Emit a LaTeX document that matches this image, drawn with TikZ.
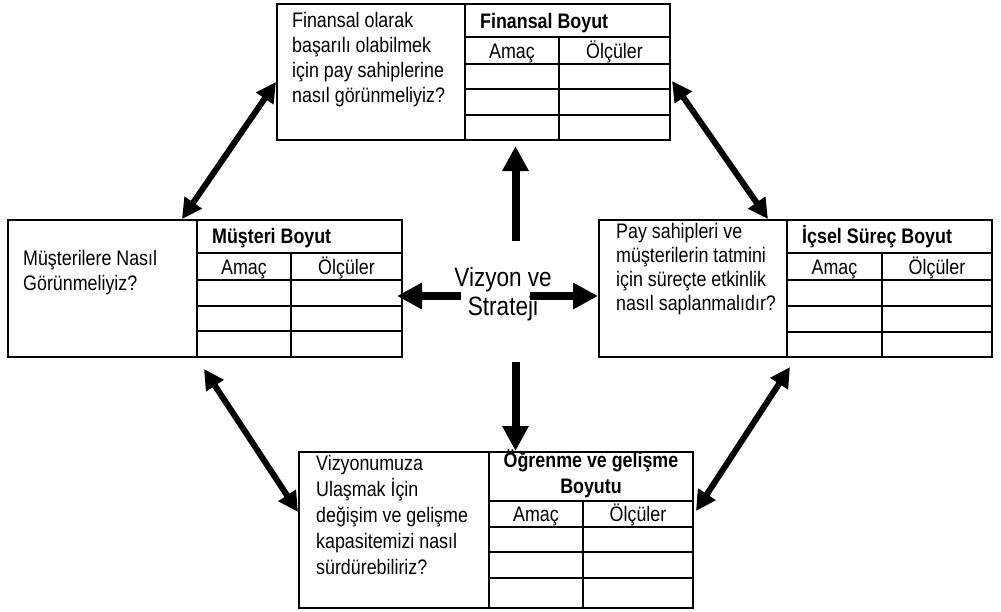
\documentclass[tikz,border=0pt]{standalone}
\usepackage{fontspec}
\setmainfont{Liberation Sans}[FakeStretch=0.85]
\usetikzlibrary{arrows.meta,calc}
\begin{document}
\begin{tikzpicture}[x=1pt,y=-1pt,
  boxnode/.style={draw,line width=2.2pt,anchor=north west,inner sep=0pt,outer sep=0pt},
  gridline/.style={line width=2pt},
  qtext/.style={anchor=north west,inner sep=0pt,align=left,font=\fontsize{21}{25}\selectfont},
  htext/.style={anchor=base west,inner sep=0pt,font=\fontsize{21}{25}\selectfont\bfseries},
  ctext/.style={anchor=base,inner sep=0pt,font=\fontsize{21}{25}\selectfont},
  bigarrow/.style={line width=8pt,-{Triangle[length=25pt,width=25pt]}},
  dblarrow/.style={line width=6pt,{Triangle[length=20pt,width=20pt]}-{Triangle[length=20pt,width=20pt]}}]
\useasboundingbox (0,0) rectangle (1001,611);
\fill[white] (0,0) rectangle (1001,611);

% ---------- Finansal box ----------
\node[boxnode,minimum width=393pt,minimum height=136pt] (fin) at (277,4) {};
\draw[gridline] (465,4) -- (465,140);
\draw[gridline] (465,37) -- (670,37);
\draw[gridline] (465,64) -- (670,64);
\draw[gridline] (465,89) -- (670,89);
\draw[gridline] (465,115) -- (670,115);
\draw[gridline] (559,37) -- (559,140);
\node[qtext] (finq) at (292,9.5) {\strut Finansal olarak\\ başarılı olabilmek\\ için pay sahiplerine\\ nasıl görünmeliyiz?};
\node[htext] (finh) at (480,28) {Finansal Boyut};
\node[ctext] (fina) at (512,58) {Amaç};
\node[ctext] (fino) at (614.5,58) {Ölçüler};

% ---------- Musteri box ----------
\node[boxnode,minimum width=394pt,minimum height=137pt] (mus) at (8,220) {};
\draw[gridline] (197,220) -- (197,357);
\draw[gridline] (197,253) -- (402,253);
\draw[gridline] (197,280) -- (402,280);
\draw[gridline] (197,306) -- (402,306);
\draw[gridline] (197,331) -- (402,331);
\draw[gridline] (291,253) -- (291,357);
\node[qtext] (musq) at (23,247.5) {\strut Müşterilere Nasıl\\ Görünmeliyiz?};
\node[htext] (mush) at (212,243) {Müşteri Boyut};
\node[ctext] (musa) at (244,274) {Amaç};
\node[ctext] (muso) at (346.5,274) {Ölçüler};

% ---------- Icsel box ----------
\node[boxnode,minimum width=393pt,minimum height=137pt] (ics) at (599,220) {};
\draw[gridline] (787,220) -- (787,357);
\draw[gridline] (787,253) -- (992,253);
\draw[gridline] (787,280) -- (992,280);
\draw[gridline] (787,306) -- (992,306);
\draw[gridline] (787,332) -- (992,332);
\draw[gridline] (882,253) -- (882,357);
\node[qtext,font=\fontsize{21}{24}\selectfont] (icsq) at (616,221.2) {\strut Pay sahipleri ve\\ müşterilerin tatmini\\ için süreçte etkinlik\\ nasıl saplanmalıdır?};
\node[htext] (icsh) at (802,243) {İçsel Süreç Boyut};
\node[ctext] (icsa) at (834.5,274) {Amaç};
\node[ctext] (icso) at (937,274) {Ölçüler};

% ---------- Ogrenme box ----------
\node[boxnode,minimum width=394pt,minimum height=156pt] (ogr) at (299,452) {};
\draw[gridline] (489,452) -- (489,608);
\draw[gridline] (489,501) -- (693,501);
\draw[gridline] (489,527) -- (693,527);
\draw[gridline] (489,552) -- (693,552);
\draw[gridline] (489,578) -- (693,578);
\draw[gridline] (583,501) -- (583,608);
\node[qtext,font=\fontsize{21}{26}\selectfont] (ogrq) at (316,451.8) {\rule{0pt}{18.2pt}Vizyonumuza\\ Ulaşmak İçin\\ değişim ve gelişme\\ kapasitemizi nasıl\\ sürdürebiliriz?};
\node[anchor=north,inner sep=0pt,align=center,font=\fontsize{21}{26}\selectfont\bfseries] (ogrh) at (591,447) {\rule{0pt}{20pt}Öğrenme ve gelişme\\ Boyutu};
\node[ctext] (ogra) at (536,521) {Amaç};
\node[ctext] (ogro) at (638,521) {Ölçüler};

% ---------- Center ----------
\node[anchor=north,inner sep=0pt,align=center,font=\fontsize{26.5}{29.5}\selectfont] (vis) at (503,265.4) {\strut Vizyon ve\\ Strateji};

\coordinate (vup) at (515.5,241);
\coordinate (vdn) at (515.5,362);
\coordinate (vlf) at (461,296);
\coordinate (vrt) at (530,296);
\coordinate (tup) at (515.5,146);
\coordinate (tdn) at (515.5,451);
\coordinate (tlf) at (397,296);
\coordinate (trt) at (598,296);
\draw[bigarrow] (vup) -- (tup);
\draw[bigarrow] (vdn) -- (tdn);
\draw[bigarrow] (vlf) -- (tlf);
\draw[bigarrow] (vrt) -- (trt);

% ---------- Diagonal double arrows ----------
\coordinate (nw1) at (182,219);
\coordinate (nw2) at (276,82);
\coordinate (ne1) at (672,81);
\coordinate (ne2) at (768,219);
\coordinate (sw1) at (204,369);
\coordinate (sw2) at (298,512);
\coordinate (se1) at (790,367);
\coordinate (se2) at (696,511);
\draw[dblarrow] (nw1) -- (nw2);
\draw[dblarrow] (ne1) -- (ne2);
\draw[dblarrow] (sw1) -- (sw2);
\draw[dblarrow] (se1) -- (se2);
\end{tikzpicture}
\end{document}
